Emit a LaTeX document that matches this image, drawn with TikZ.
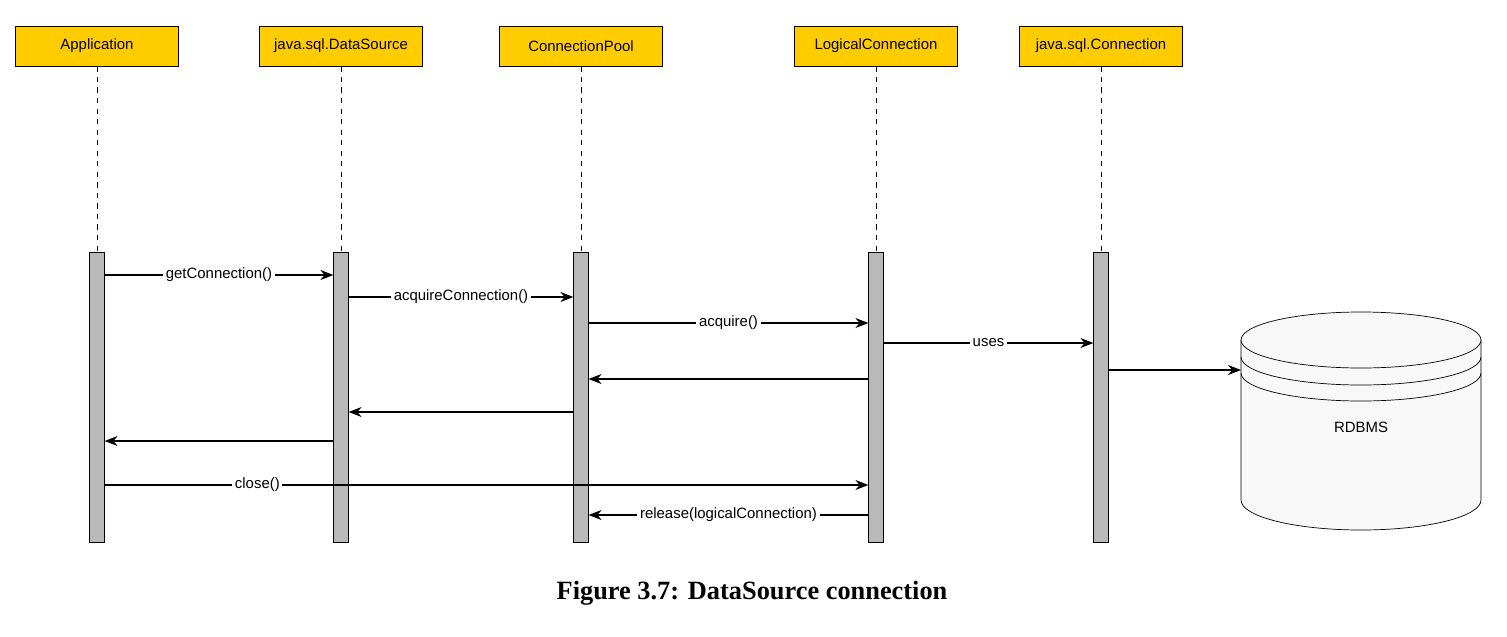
\documentclass[tikz,border=0pt]{standalone}
\usepackage{fontspec}
\setmainfont{Liberation Sans}
\newfontfamily\capfont{Liberation Serif}
\usetikzlibrary{arrows.meta,shapes.geometric}
\definecolor{hdryellow}{HTML}{FFCC00}
\definecolor{dbfill}{HTML}{F8F8F8}
\tikzset{
  actor/.style={draw=black,fill=hdryellow,minimum width=3.25cm,minimum height=0.8cm,font=\fontsize{8.5}{10}\selectfont},
  lifeline/.style={dashed,thin},
  bar/.style={draw=black,fill=gray!55,minimum width=0.29cm,minimum height=5.8cm,inner sep=0pt},
  msg/.style={-{Stealth[length=2.6mm,width=2mm]},thick},
  lbl/.style={fill=white,inner sep=1.5pt,font=\fontsize{8.5}{10}\selectfont}
}
\begin{document}
\begin{tikzpicture}[x=0.02cm,y=-0.02cm]
  \useasboundingbox (0,0) rectangle (1507,636);
  % participants
  \node[actor] (app) at (97,46) {Application};
  \node[actor] (ds) at (341,46) {java.sql.DataSource};
  \node[actor] (pool) at (581,46) {ConnectionPool};
  \node[actor] (lc) at (876,46) {LogicalConnection};
  \node[actor] (conn) at (1101,46) {java.sql.Connection};
  % activation bars
  \node[bar] (appb) at (97,397) {};
  \node[bar] (dsb) at (341,397) {};
  \node[bar] (poolb) at (581,397) {};
  \node[bar] (lcb) at (876,397) {};
  \node[bar] (connb) at (1101,397) {};
  \foreach \a in {app,ds,pool,lc,conn}
    \draw[lifeline] (\a.south) -- (\a b.north);
  % messages
  \draw[msg] (appb.east |- 0,275) -- node[lbl] {getConnection()} (dsb.west |- 0,275);
  \draw[msg] (dsb.east |- 0,297) -- node[lbl] {acquireConnection()} (poolb.west |- 0,297);
  \draw[msg] (poolb.east |- 0,323) -- node[lbl] {acquire()} (lcb.west |- 0,323);
  \draw[msg] (lcb.east |- 0,343) -- node[lbl] {uses} (connb.west |- 0,343);
  \draw[msg] (lcb.west |- 0,379) -- (poolb.east |- 0,379);
  \draw[msg] (poolb.west |- 0,412) -- (dsb.east |- 0,412);
  \draw[msg] (dsb.west |- 0,441) -- (appb.east |- 0,441);
  \draw[msg] (appb.east |- 0,485) -- node[lbl,pos=0.2] {close()} (lcb.west |- 0,485);
  \draw[msg] (lcb.west |- 0,515) -- node[lbl] {release(logicalConnection)} (poolb.east |- 0,515);
  % database
  \draw[fill=dbfill] (1241,340) -- (1241,500) arc[x radius=120,y radius=-30,start angle=180,end angle=360] -- (1481,340);
  \draw[fill=dbfill] (1361,340) ellipse[x radius=120,y radius=-28];
  \draw (1241,357) arc[x radius=120,y radius=-28,start angle=180,end angle=360];
  \draw (1241,373) arc[x radius=120,y radius=-28,start angle=180,end angle=360];
  \coordinate (db) at (1241,370);
  \node[font=\fontsize{8.5}{10}\selectfont] (dbl) at (1361,427) {RDBMS};
  \draw[msg] (connb.east |- db) -- (db);
  % caption
  \node[font=\capfont\bfseries\fontsize{15}{18}\selectfont] (cap) at (752,593) {Figure 3.7: DataSource connection};
\end{tikzpicture}
\end{document}
